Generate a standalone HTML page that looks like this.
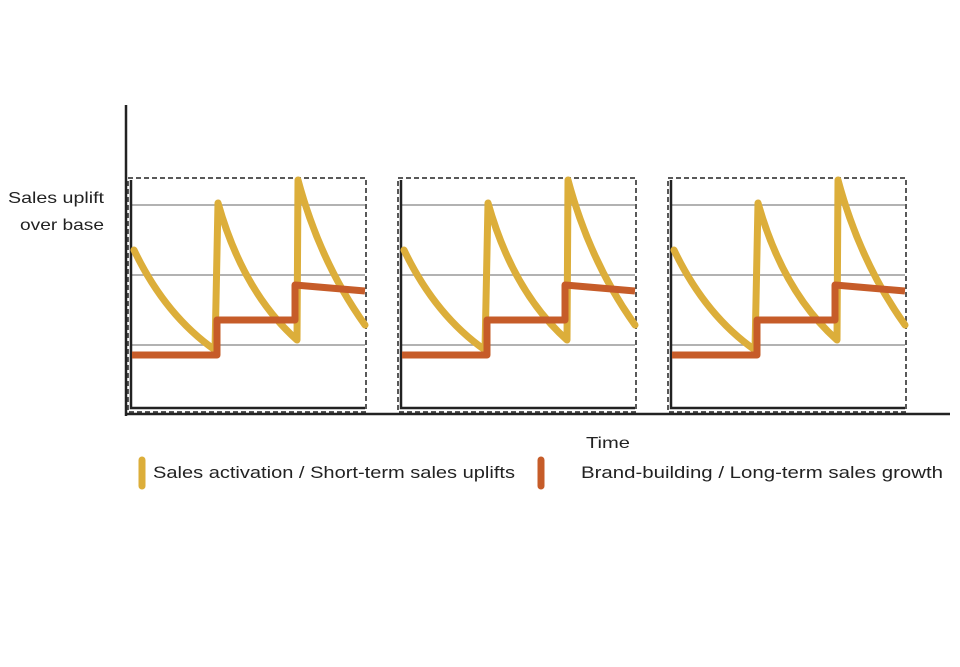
<!DOCTYPE html>
<html><head><meta charset="utf-8"><style>html,body{margin:0;padding:0;background:#fff}</style></head>
<body>
<svg width="960" height="662" xmlns="http://www.w3.org/2000/svg" font-family="Liberation Sans, sans-serif">
<rect width="960" height="662" fill="#fff"/>
<defs>
<g id="p">
  <rect x="128" y="178" width="238" height="234" fill="none" stroke="#222" stroke-width="1.5" stroke-dasharray="5,3"/>
  <line x1="132" y1="205" x2="365" y2="205" stroke="#999" stroke-width="1.5"/>
  <line x1="132" y1="275" x2="365" y2="275" stroke="#999" stroke-width="1.5"/>
  <line x1="132" y1="345" x2="365" y2="345" stroke="#999" stroke-width="1.5"/>
  <polyline points="131,180 131,408 365,408" fill="none" stroke="#222" stroke-width="2.5"/>
  <path d="M134,250 Q165,315 215,350 L218,203 Q243,292 297,340 L298,180 Q320,262 365,325" fill="none" stroke="#dcae3a" stroke-width="7" stroke-linejoin="round" stroke-linecap="round"/>
  <path d="M132,355 L217,355 L217,320 L295,320 L295,285 L365,291" fill="none" stroke="#c65c29" stroke-width="7" stroke-linejoin="round"/>
</g>
</defs>
<use href="#p"/>
<use href="#p" transform="translate(270,0)"/>
<use href="#p" transform="translate(540,0)"/>
<line x1="126" y1="105" x2="126" y2="416" stroke="#222" stroke-width="2.5"/>
<line x1="125" y1="414" x2="950" y2="414" stroke="#222" stroke-width="2.5"/>
<text x="8" y="203" font-size="16" fill="#222" textLength="96" lengthAdjust="spacingAndGlyphs">Sales uplift</text>
<text x="20" y="230" font-size="16" fill="#222" textLength="84" lengthAdjust="spacingAndGlyphs">over base</text>
<text x="586" y="448" font-size="16" fill="#222" textLength="44" lengthAdjust="spacingAndGlyphs">Time</text>
<line x1="142" y1="460" x2="142" y2="486" stroke="#dcae3a" stroke-width="7" stroke-linecap="round"/>
<line x1="541" y1="460" x2="541" y2="486" stroke="#c65c29" stroke-width="7" stroke-linecap="round"/>
<text x="153" y="478" font-size="17" fill="#222" textLength="362" lengthAdjust="spacingAndGlyphs">Sales activation / Short-term sales uplifts</text>
<text x="581" y="478" font-size="17" fill="#222" textLength="362" lengthAdjust="spacingAndGlyphs">Brand-building / Long-term sales growth</text>
</svg>
</body></html>
